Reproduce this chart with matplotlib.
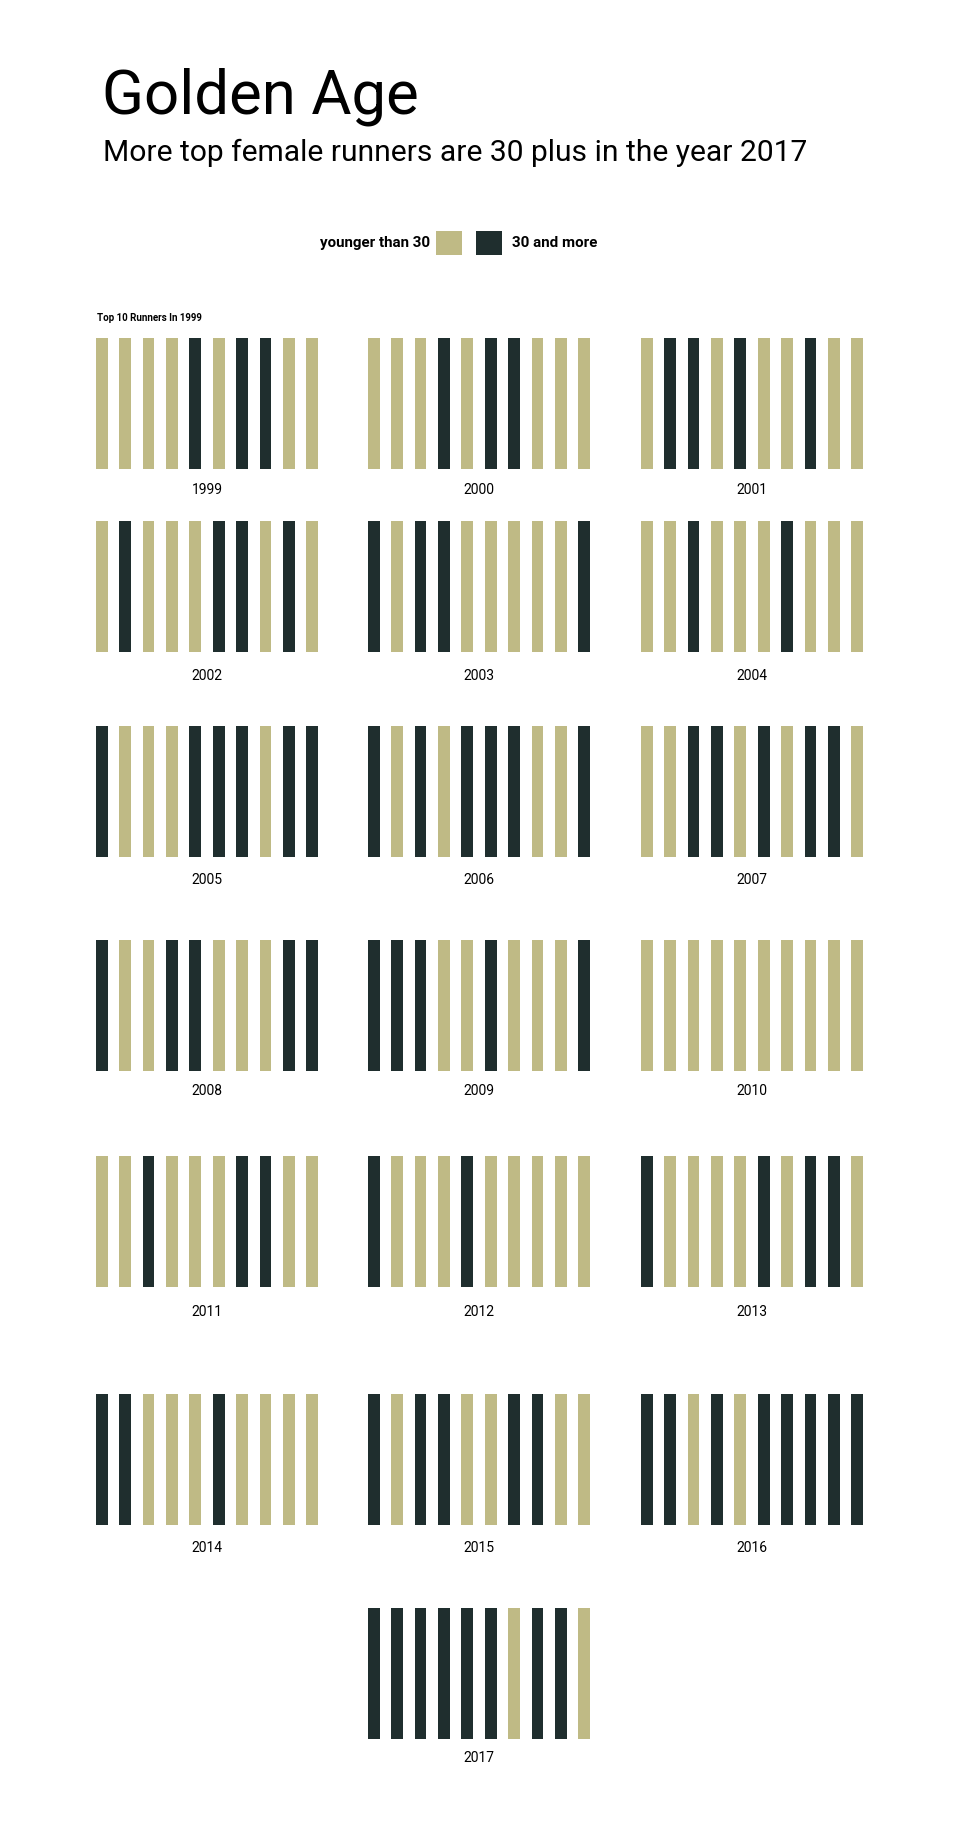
import matplotlib
matplotlib.use('Agg')
import matplotlib.pyplot as plt
from matplotlib.patches import Rectangle

# top 10 runners per year: 1 = 30 and more, 0 = younger than 30
years = [1999, 2000, 2001, 2002, 2003, 2004, 2005, 2006, 2007,
         2008, 2009, 2010, 2011, 2012, 2013, 2014, 2015, 2016, 2017]
over30 = [
    [0, 0, 0, 0, 1, 0, 1, 1, 0, 0],  # 1999
    [0, 0, 0, 1, 0, 1, 1, 0, 0, 0],  # 2000
    [0, 1, 1, 0, 1, 0, 0, 1, 0, 0],  # 2001
    [0, 1, 0, 0, 0, 1, 1, 0, 1, 0],  # 2002
    [1, 0, 1, 1, 0, 0, 0, 0, 0, 1],  # 2003
    [0, 0, 1, 0, 0, 0, 1, 0, 0, 0],  # 2004
    [1, 0, 0, 0, 1, 1, 1, 0, 1, 1],  # 2005
    [1, 0, 1, 0, 1, 1, 1, 0, 0, 1],  # 2006
    [0, 0, 1, 1, 0, 1, 0, 1, 1, 0],  # 2007
    [1, 0, 0, 1, 1, 0, 0, 0, 1, 1],  # 2008
    [1, 1, 1, 0, 0, 1, 0, 0, 0, 1],  # 2009
    [0, 0, 0, 0, 0, 0, 0, 0, 0, 0],  # 2010
    [0, 0, 1, 0, 0, 0, 1, 1, 0, 0],  # 2011
    [1, 0, 0, 0, 1, 0, 0, 0, 0, 0],  # 2012
    [1, 0, 0, 0, 0, 1, 0, 1, 1, 0],  # 2013
    [1, 1, 0, 0, 0, 1, 0, 0, 0, 0],  # 2014
    [1, 0, 1, 1, 0, 0, 1, 1, 0, 0],  # 2015
    [1, 1, 0, 1, 0, 1, 1, 1, 1, 1],  # 2016
    [1, 1, 1, 1, 1, 1, 0, 1, 1, 0],  # 2017
]
legend_labels = ['younger than 30', '30 and more']

TAN = '#bfba85'
DARK = '#1f2e2e'
W, H = 960, 1834

plt.rcParams['font.family'] = ['Roboto', 'DejaVu Sans']

fig = plt.figure(figsize=(W / 100, H / 100), dpi=100)
fig.patch.set_facecolor('white')


def fx(px):
    return px / W


def fy(py):
    return 1 - py / H


# titles
fig.text(fx(102), fy(113), 'Golden Age', fontsize=44.5, va='baseline', ha='left', color='black')
fig.text(fx(103), fy(161), 'More top female runners are 30 plus in the year 2017',
         fontsize=21.6, va='baseline', ha='left', color='black')

# legend
fig.text(fx(430), fy(243), legend_labels[0], fontsize=10.9, fontweight='bold',
         ha='right', va='center')
fig.add_artist(Rectangle((fx(436), fy(255)), fx(26), 24 / H, transform=fig.transFigure,
                         facecolor=TAN, edgecolor='none'))
fig.add_artist(Rectangle((fx(476), fy(255)), fx(26), 24 / H, transform=fig.transFigure,
                         facecolor=DARK, edgecolor='none'))
fig.text(fx(512), fy(243), legend_labels[1], fontsize=10.9, fontweight='bold',
         ha='left', va='center')

fig.text(fx(97), fy(318), 'Top 10 Runners In 1999', fontsize=7, fontweight='bold',
         ha='left', va='center')

# panel layout (pixels)
col_left = [96, 368, 641]
panel_w = 222
row_top = [338, 521, 726, 940, 1156, 1394, 1608]
bar_h = 131
label_y = [490, 676, 880, 1091, 1312, 1548, 1758]

for i, (yr, flags) in enumerate(zip(years, over30)):
    row, col = divmod(i, 3)
    if yr == 2017:
        col = 1
    left = col_left[col]
    top = row_top[row]
    ax = fig.add_axes([fx(left), fy(top + bar_h), fx(panel_w), bar_h / H])
    colors = [DARK if f else TAN for f in flags]
    ax.bar(range(len(flags)), [1] * len(flags), width=0.5, color=colors, align='center')
    ax.set_xlim(-0.25, len(flags) - 0.75)
    ax.set_ylim(0, 1)
    ax.axis('off')
    fig.text(fx(left + panel_w / 2), fy(label_y[row]), str(yr), fontsize=10,
             ha='center', va='center')

fig.savefig('out.png', dpi=100, facecolor='white')
